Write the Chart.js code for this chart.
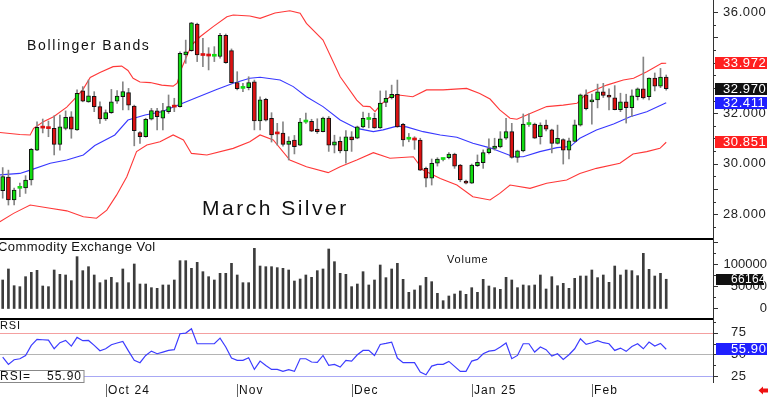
<!DOCTYPE html>
<html>
<head>
<meta charset="utf-8">
<title>March Silver</title>
<script src="https://cdn.jsdelivr.net/npm/chart.js@4.4.1/dist/chart.umd.min.js"></script>
<style>
  html, body { margin: 0; padding: 0; background: #fff; }
  #wrap { position: relative; width: 768px; height: 397px; overflow: hidden; background: #fff; }
  #wrap canvas { position: absolute; left: 0; }
</style>
</head>
<body>
<div id="wrap">
  <canvas id="priceChart" width="768" height="238" style="top:0px"></canvas>
  <canvas id="volChart" width="768" height="80" style="top:238px"></canvas>
  <canvas id="rsiChart" width="768" height="79" style="top:318px"></canvas>
</div>
<script>
// Daily OHLC, one entry per trading day (Sep 24 .. Feb 25)
const opens = [
  28.94, 29.47, 28.57, 29.03, 29.05, 29.36, 30.54, 31.44, 31.41, 31.40,
  30.77, 31.40, 31.86, 31.34, 32.88, 32.45, 32.67, 32.26, 31.77, 32.02,
  32.48, 32.65, 32.81, 32.28, 31.23, 31.07, 31.76, 32.09, 31.80, 32.06,
  32.27, 32.26, 34.30, 34.47, 35.52, 34.30, 34.27, 34.25, 34.24, 35.08,
  34.47, 33.21, 32.98, 33.01, 33.24, 31.69, 32.55, 31.80, 31.20, 31.21,
  30.77, 30.94, 30.74, 31.65, 31.68, 31.37, 31.27, 31.81, 30.74, 30.89,
  30.51, 31.07, 31.01, 31.46, 31.75, 31.80, 31.42, 32.43, 32.61, 32.75,
  31.56, 30.97, 30.98, 30.94, 29.82, 29.43, 30.02, 30.17, 30.24, 30.38,
  29.95, 29.32, 29.23, 29.93, 30.04, 30.44, 30.61, 30.67, 31.01, 31.27,
  30.25, 30.51, 31.55, 31.57, 31.07, 31.53, 31.34, 30.81, 30.96, 30.54,
  30.88, 31.53, 32.73, 32.45, 32.52, 32.84, 32.72, 32.61, 32.14, 32.45,
  32.22, 32.65, 32.96, 32.65, 33.39, 33.07, 33.43
];
const highs = [
  29.85, 29.75, 29.04, 29.24, 29.53, 30.61, 31.66, 31.77, 31.69, 31.90,
  31.93, 32.09, 32.06, 32.92, 33.05, 33.31, 32.85, 32.45, 32.13, 32.94,
  32.89, 33.24, 32.98, 32.32, 31.27, 31.80, 32.19, 32.19, 32.39, 32.72,
  32.59, 34.43, 34.89, 35.59, 35.56, 34.96, 34.59, 34.63, 35.16, 35.13,
  34.54, 33.64, 33.18, 33.44, 33.31, 32.65, 32.59, 32.02, 31.60, 31.66,
  31.07, 31.12, 31.80, 32.00, 31.76, 31.78, 31.85, 31.87, 31.13, 31.06,
  31.31, 31.27, 31.49, 32.04, 32.00, 32.00, 32.88, 32.88, 33.11, 33.31,
  31.60, 31.20, 31.07, 31.01, 29.87, 30.19, 30.24, 30.23, 30.44, 30.42,
  29.98, 29.36, 29.99, 30.35, 30.55, 30.99, 31.01, 31.27, 31.80, 31.60,
  30.54, 31.97, 31.97, 31.61, 31.62, 31.73, 31.37, 31.53, 30.99, 31.02,
  31.73, 32.76, 32.92, 32.76, 33.15, 33.18, 32.96, 33.09, 32.79, 32.75,
  32.92, 33.00, 34.22, 33.40, 33.59, 33.77, 33.51
];
const lows = [
  28.64, 28.37, 28.37, 28.70, 28.83, 29.16, 30.52, 31.22, 31.07, 30.35,
  30.54, 31.34, 31.01, 31.32, 32.45, 32.43, 32.06, 31.60, 31.71, 31.99,
  32.39, 32.13, 32.13, 30.71, 30.81, 31.05, 31.73, 31.34, 31.34, 31.99,
  32.06, 32.24, 33.97, 34.45, 34.04, 33.84, 33.71, 34.04, 34.17, 33.97,
  33.18, 32.92, 32.85, 32.92, 31.34, 31.34, 31.69, 30.86, 30.74, 30.70,
  30.15, 30.39, 30.72, 31.60, 31.27, 31.20, 31.26, 30.49, 30.43, 30.43,
  30.02, 30.49, 30.99, 31.42, 31.42, 31.40, 31.40, 32.26, 32.56, 31.44,
  30.70, 30.87, 30.57, 29.73, 29.09, 29.16, 29.91, 30.11, 30.19, 29.82,
  29.29, 29.20, 29.22, 29.89, 29.82, 30.39, 30.54, 30.63, 30.96, 30.22,
  30.06, 30.47, 31.48, 31.00, 30.78, 31.30, 30.43, 30.78, 29.99, 30.19,
  30.87, 31.49, 32.13, 31.57, 32.21, 32.62, 32.13, 32.13, 32.06, 31.61,
  31.86, 32.52, 32.56, 32.52, 32.88, 33.01, 32.91
];
const closes = [
  29.49, 28.57, 28.96, 29.05, 29.36, 30.57, 31.44, 31.41, 31.39, 30.77,
  31.46, 31.84, 31.37, 32.79, 32.48, 32.69, 32.26, 31.77, 32.02, 32.45,
  32.68, 32.85, 32.32, 31.31, 31.07, 31.76, 32.10, 31.86, 32.10, 32.26,
  32.24, 34.37, 34.43, 35.57, 34.30, 34.28, 34.26, 34.27, 35.08, 34.00,
  33.21, 32.97, 33.00, 33.21, 31.69, 32.53, 31.72, 31.14, 31.18, 30.77,
  30.90, 30.68, 31.65, 31.66, 31.29, 31.27, 31.81, 30.74, 30.87, 30.51,
  31.07, 30.94, 31.46, 31.80, 31.76, 31.42, 32.40, 32.59, 32.75, 31.46,
  30.94, 30.98, 30.94, 29.75, 29.43, 30.02, 30.19, 30.18, 30.38, 29.91,
  29.36, 29.23, 29.95, 30.06, 30.44, 30.60, 30.70, 30.99, 31.27, 30.25,
  30.51, 31.57, 31.57, 31.01, 31.53, 31.37, 30.81, 31.01, 30.54, 30.91,
  31.54, 32.73, 32.18, 32.50, 32.84, 32.70, 32.63, 32.14, 32.45, 32.22,
  32.69, 32.96, 32.60, 33.39, 33.07, 33.43, 32.97
];
const volumes = [
  64500, 89400, 51600, 49400, 72000, 81800, 86400, 50900, 49400, 87100,
  77300, 75800, 63000, 117300, 85600, 94600, 75800, 58400, 64500, 70500,
  58400, 89400, 58400, 100700, 55400, 55400, 47100, 45600, 53200, 53200,
  64500, 108200, 108200, 90900, 104400, 83300, 72000, 64500, 79600, 79600,
  102200, 75800, 58400, 58400, 136100, 96100, 94600, 94600, 92400, 90900,
  87100, 62200, 66700, 75800, 70500, 85600, 89400, 134600, 105900, 79600,
  77300, 49400, 55400, 83300, 53200, 64500, 98400, 69800, 89400, 102200,
  66000, 36600, 41900, 51600, 70500, 60700, 34300, 17700, 28300, 32800,
  39600, 32100, 47100, 36600, 66000, 50900, 47100, 43400, 70500, 64500,
  47100, 53200, 51600, 53200, 75800, 44100, 72000, 51600, 56900, 45600,
  68200, 73500, 73500, 87100, 69800, 75800, 59200, 96100, 75800, 87100,
  85600, 74300, 124800, 88600, 73500, 79600, 66164
];
const rsiValues = [
  46.9, 38.5, 43.8, 45.0, 48.8, 60.4, 67.3, 66.9, 66.5, 56.5,
  63.5, 66.1, 59.6, 69.6, 65.8, 66.1, 60.4, 54.2, 56.5, 61.2,
  63.1, 65.0, 53.8, 43.1, 40.4, 48.8, 53.8, 50.8, 52.7, 54.6,
  55.4, 73.8, 74.6, 79.6, 62.3, 62.3, 62.3, 62.3, 68.8, 58.5,
  45.8, 43.1, 43.1, 46.2, 32.7, 42.3, 37.3, 32.7, 32.7, 30.4,
  32.3, 30.4, 45.0, 45.0, 41.2, 40.8, 48.8, 37.3, 38.5, 35.4,
  43.1, 42.3, 49.6, 54.6, 54.6, 48.8, 61.5, 62.7, 64.2, 45.8,
  40.4, 40.4, 40.4, 29.6, 26.5, 36.5, 38.5, 38.5, 41.9, 36.2,
  30.4, 30.4, 42.3, 44.2, 50.8, 53.8, 54.6, 58.5, 63.1, 45.0,
  48.8, 62.3, 62.3, 52.7, 58.5, 55.4, 48.1, 50.8, 44.2, 49.6,
  56.5, 68.0, 61.5, 63.5, 65.8, 63.5, 62.3, 54.6, 57.3, 53.5,
  59.2, 62.3, 56.5, 64.2, 59.6, 62.7, 55.9
];

// Bollinger bands, read as [day index, price] points
const upperBand = [
  [-0.5, 31.24], [3, 31.16], [4.8, 31.14], [5.4, 31.40], [7.1, 31.66], [8.9, 31.86], [11.2, 32.24],
  [12.9, 32.64], [14.1, 32.96], [15.3, 33.41], [17, 33.61], [19.3, 33.84], [20.8, 33.86], [21.9, 33.69],
  [22.8, 33.38], [24, 33.23], [25.8, 33.21], [27.8, 33.11], [29.8, 33.07], [30.5, 33.19], [31.3, 33.79],
  [31.9, 34.10], [33, 34.68], [34.5, 35.02], [36.8, 35.42], [39.2, 35.81], [40.3, 35.88], [43.2, 35.84],
  [45, 35.75], [47.6, 35.96], [50.2, 36.05], [52, 35.95], [53.1, 35.55], [56, 34.89], [59, 33.44],
  [61.9, 32.52], [63, 32.28], [64.2, 32.26], [65.1, 32.06], [66, 32.32], [67.7, 32.65], [69.2, 32.72],
  [71.7, 32.65], [74.1, 32.92], [77, 32.92], [81.1, 32.98], [83.4, 32.78], [85.2, 32.56], [86.9, 32.13],
  [88.7, 31.80], [89.9, 31.76], [91.6, 31.93], [95.1, 32.26], [98, 32.32], [100.4, 32.39], [102.1, 32.78],
  [105.6, 33.11], [108.5, 33.31], [110.3, 33.38], [112.6, 33.64], [115.2, 33.97], [116, 33.972]
];
const middleBand = [
  [-0.5, 29.56], [3, 29.62], [4.8, 29.75], [8.3, 30.02], [11.2, 30.15], [14.1, 30.35], [16.1, 30.72],
  [19.6, 31.14], [21.9, 31.73], [24.9, 31.93], [27.8, 32.06], [30.7, 32.32], [33.6, 32.59], [37.4, 32.94],
  [40.3, 33.18], [43.2, 33.38], [45, 33.42], [48.5, 33.31], [50.8, 33.05], [53.1, 32.65], [56, 32.26],
  [59, 31.73], [61.9, 31.40], [64.8, 31.27], [66.5, 31.34], [68.9, 31.49], [70.6, 31.46], [73.5, 31.27],
  [76.5, 31.14], [79.4, 31.05], [82.2, 30.81], [85.2, 30.63], [89.3, 30.28], [91, 30.28], [93.9, 30.48],
  [96.9, 30.64], [99.2, 30.68], [100.9, 31.01], [103.8, 31.34], [106.8, 31.57], [109.7, 31.86],
  [112.6, 32.06], [116, 32.411]
];
const lowerBand = [
  [-0.5, 27.71], [1.9, 28.04], [4.8, 28.37], [8.3, 28.24], [11.2, 28.14], [14.1, 27.91], [16.4, 27.85],
  [18.2, 28.17], [19.9, 28.76], [21.7, 29.49], [23.4, 30.48], [25.2, 30.74], [27.5, 30.87], [29.8, 31.14],
  [31.6, 30.94], [33, 30.41], [35.7, 30.35], [40.3, 30.61], [43.2, 30.87], [45, 31.14], [47.3, 30.94],
  [50.2, 30.15], [53.1, 29.88], [56.9, 29.65], [59, 29.88], [61.9, 30.15], [64.8, 30.44], [67.7, 30.22],
  [71.8, 30.28], [73.5, 29.75], [76.5, 29.42], [79.4, 29.16], [82.2, 28.70], [85.2, 28.57], [86.9, 28.83],
  [88.7, 29.16], [92.2, 29.03], [95.1, 29.23], [98.6, 29.36], [100.9, 29.62], [103.8, 29.82],
  [107.9, 30.02], [110.2, 30.39], [112.6, 30.48], [114.9, 30.61], [116, 30.851]
];

// Axis labels
const priceTicks = [36, 34, 32, 30, 28];
const volumeTicks = [100000, 50000, 0];
const rsiTicks = [75, 50, 25];
const monthStarts = [18, 41, 61, 82, 103];
const monthLabels = ['Oct 24', 'Nov', 'Dec', 'Jan 25', 'Feb'];

const GREEN = '#11dd11';
const RED = '#dd1111';
const FONT = '"Liberation Sans", Arial, sans-serif';
const AXIS_X = 713;
const dayIdx = closes.map((_, i) => i);

// shared x axis so the three panels line up
function xAxis() {
  return { type: 'linear', display: false, min: -0.472, max: 124.18, offset: false };
}

function drawText(ctx, s, x, y, size, color, spacing, align) {
  ctx.save();
  ctx.font = size + 'px ' + FONT;
  ctx.fillStyle = color;
  ctx.textAlign = align || 'left';
  ctx.textBaseline = 'middle';
  ctx.letterSpacing = (spacing || 0) + 'px';
  ctx.fillText(s, x, y);
  ctx.restore();
}

function tag(ctx, text, yc, bg, x, w, h, tx, size, spacing) {
  ctx.fillStyle = bg;
  ctx.fillRect(x, Math.round(yc - h / 2), w, h);
  drawText(ctx, text, tx, yc + 0.5, size, '#fff', spacing);
}

const baseOptions = {
  responsive: false,
  animation: false,
  events: [],
  devicePixelRatio: 1,
  plugins: { legend: { display: false }, tooltip: { enabled: false } }
};

// ---- price panel ----
const priceDecor = {
  id: 'priceDecor',
  afterDraw(chart) {
    const { ctx, scales: { y } } = chart;
    ctx.save();
    ctx.fillStyle = '#333';
    ctx.fillRect(AXIS_X, 0, 1, chart.height);
    for (let p = 27.5; p <= 36.01; p += 0.5) {
      const len = Number.isInteger(p) ? 4 : 2;
      ctx.fillRect(AXIS_X + 1, Math.round(y.getPixelForValue(p)), len, 1);
    }
    priceTicks.forEach(p => drawText(ctx, p.toFixed(3), 723, y.getPixelForValue(p), 13, '#222', 0.6));
    drawText(ctx, 'Bollinger Bands', 27, 46, 14, '#111', 1.7);
    drawText(ctx, 'March Silver', 202, 209, 21, '#111', 2.5);

    const last = closes.length - 1;
    const up = upperBand[upperBand.length - 1][1];
    const mid = middleBand[middleBand.length - 1][1];
    const low = lowerBand[lowerBand.length - 1][1];
    tag(ctx, up.toFixed(3), y.getPixelForValue(up), '#ff2020', 715, 52, 12, 723, 13, 0.6);
    tag(ctx, closes[last].toFixed(3), y.getPixelForValue(closes[last]), '#111', 715, 52, 12, 723, 13, 0.6);
    tag(ctx, mid.toFixed(3), y.getPixelForValue(mid), '#2020ff', 715, 52, 12, 723, 13, 0.6);
    tag(ctx, low.toFixed(3), y.getPixelForValue(low), '#ff2020', 715, 52, 12, 723, 13, 0.6);
    ctx.restore();
  }
};

new Chart(document.getElementById('priceChart'), {
  type: 'bar',
  data: {
    datasets: [
      {
        data: dayIdx.map(i => ({ x: i, y: [opens[i], closes[i]] })),
        backgroundColor: ctx => closes[ctx.dataIndex] >= opens[ctx.dataIndex] ? GREEN : RED,
        borderColor: '#111',
        borderWidth: ctx => Math.abs(closes[ctx.dataIndex] - opens[ctx.dataIndex]) < 0.04 ? 0 : 1,
        borderSkipped: false,
        barThickness: 4,
        minBarLength: 2,
        grouped: false,
        order: 0
      },
      {
        data: dayIdx.map(i => ({ x: i, y: [lows[i], highs[i]] })),
        backgroundColor: '#858585',
        borderWidth: 0,
        barThickness: 1,
        grouped: false,
        order: 1
      },
      {
        type: 'line',
        data: upperBand.map(([x, y]) => ({ x, y })),
        borderColor: '#ff3838', borderWidth: 1.1, pointRadius: 0, tension: 0, order: 2
      },
      {
        type: 'line',
        data: middleBand.map(([x, y]) => ({ x, y })),
        borderColor: '#3838ff', borderWidth: 1.1, pointRadius: 0, tension: 0, order: 3
      },
      {
        type: 'line',
        data: lowerBand.map(([x, y]) => ({ x, y })),
        borderColor: '#ff3838', borderWidth: 1.1, pointRadius: 0, tension: 0, order: 4
      }
    ]
  },
  options: {
    ...baseOptions,
    layout: { padding: { left: 0, right: 768 - AXIS_X, top: 0, bottom: 0 } },
    scales: {
      x: xAxis(),
      y: { display: false, min: 27.067, max: 36.474 }
    }
  },
  plugins: [priceDecor]
});

// ---- volume panel ----
const volDecor = {
  id: 'volDecor',
  afterDraw(chart) {
    const { ctx, scales: { y } } = chart;
    ctx.save();
    ctx.fillStyle = '#000';
    ctx.fillRect(0, 0, AXIS_X, 2);
    ctx.fillStyle = '#333';
    ctx.fillRect(AXIS_X, 0, 1, chart.height);
    for (let v = 0; v <= 150000; v += 25000) {
      ctx.fillRect(AXIS_X + 1, Math.round(y.getPixelForValue(v)), v % 50000 === 0 ? 4 : 2, 1);
    }
    drawText(ctx, 'Commodity Exchange Vol', -2, 9, 13, '#111', 0.4);
    drawText(ctx, 'Volume', 447, 22, 11, '#111', 0.8);
    volumeTicks.forEach(v => drawText(ctx, String(v), 767, y.getPixelForValue(v), 13, '#222', 0, 'right'));
    const lastVol = volumes[volumes.length - 1];
    tag(ctx, String(lastVol), y.getPixelForValue(lastVol), '#111', 716, 48, 11, 731, 12, 0.3);
    ctx.restore();
  }
};

new Chart(document.getElementById('volChart'), {
  type: 'bar',
  data: {
    datasets: [{
      data: dayIdx.map(i => ({ x: i, y: volumes[i] })),
      backgroundColor: '#3c3c3c',
      barThickness: 2,
      grouped: false
    }]
  },
  options: {
    ...baseOptions,
    layout: { padding: { left: 0, right: 768 - AXIS_X, top: 0, bottom: 0 } },
    scales: {
      x: xAxis(),
      y: { display: false, min: -21500, max: 159500 }
    }
  },
  plugins: [volDecor]
});

// ---- RSI panel ----
const rsiDecor = {
  id: 'rsiDecor',
  beforeDatasetsDraw(chart) {
    const { ctx, scales: { y } } = chart;
    const lines = [[75, '#f4a0a0'], [50, '#b4b4b4'], [25, '#a8a8f4']];
    ctx.save();
    lines.forEach(([v, c]) => {
      ctx.fillStyle = c;
      ctx.fillRect(0, Math.round(y.getPixelForValue(v)), AXIS_X, 1);
    });
    ctx.restore();
  },
  afterDraw(chart) {
    const { ctx, chartArea, scales: { x, y } } = chart;
    ctx.save();
    ctx.fillStyle = '#000';
    ctx.fillRect(0, 0, AXIS_X, 2);
    ctx.fillStyle = '#333';
    ctx.fillRect(AXIS_X, 0, 1, chartArea.bottom);
    for (let v = 25; v <= 87.5; v += 12.5) {
      ctx.fillRect(AXIS_X + 1, Math.round(y.getPixelForValue(v)), v % 25 === 0 ? 4 : 2, 1);
    }
    drawText(ctx, 'RSI', 0, 8, 11, '#111', 0.8);
    rsiTicks.forEach(v => drawText(ctx, String(v), 731, y.getPixelForValue(v), 13, '#222', 0.6));
    const lastRsi = rsiValues[rsiValues.length - 1];
    tag(ctx, lastRsi.toFixed(2), y.getPixelForValue(lastRsi), '#2020ff', 716, 51, 12, 731, 13, 0.6);

    // value box at bottom left
    ctx.fillStyle = '#fff';
    ctx.fillRect(0, 52, 84, 12);
    ctx.strokeStyle = '#888';
    ctx.lineWidth = 1;
    ctx.strokeRect(-0.5, 52.5, 84.5, 12);
    drawText(ctx, 'RSI=', 0, 59, 12, '#111', 1);
    drawText(ctx, lastRsi.toFixed(2), 82, 59, 12, '#111', 1, 'right');

    // month axis
    monthStarts.forEach((d, k) => {
      const px = Math.round(x.getPixelForValue(d));
      ctx.fillStyle = '#666';
      ctx.fillRect(px, chartArea.bottom + 1, 1, chart.height - chartArea.bottom);
      drawText(ctx, monthLabels[k], px + 2, 73, 12, '#111', 1.1);
    });

    // red arrow, bottom right
    ctx.fillStyle = '#ee1111';
    ctx.beginPath();
    ctx.moveTo(758.5, 72.5);
    ctx.lineTo(763, 68.5);
    ctx.lineTo(763, 76.5);
    ctx.closePath();
    ctx.fill();
    ctx.fillRect(763, 70.5, 5, 4);
    ctx.restore();
  }
};

new Chart(document.getElementById('rsiChart'), {
  type: 'line',
  data: {
    datasets: [{
      data: dayIdx.map(i => ({ x: i, y: rsiValues[i] })),
      borderColor: '#3c3cff',
      borderWidth: 1.2,
      pointRadius: 0,
      tension: 0
    }]
  },
  options: {
    ...baseOptions,
    layout: { padding: { left: 0, right: 768 - AXIS_X, top: 0, bottom: 14 } },
    scales: {
      x: xAxis(),
      y: { display: false, min: 17, max: 92 }
    }
  },
  plugins: [rsiDecor]
});
</script>
</body>
</html>
